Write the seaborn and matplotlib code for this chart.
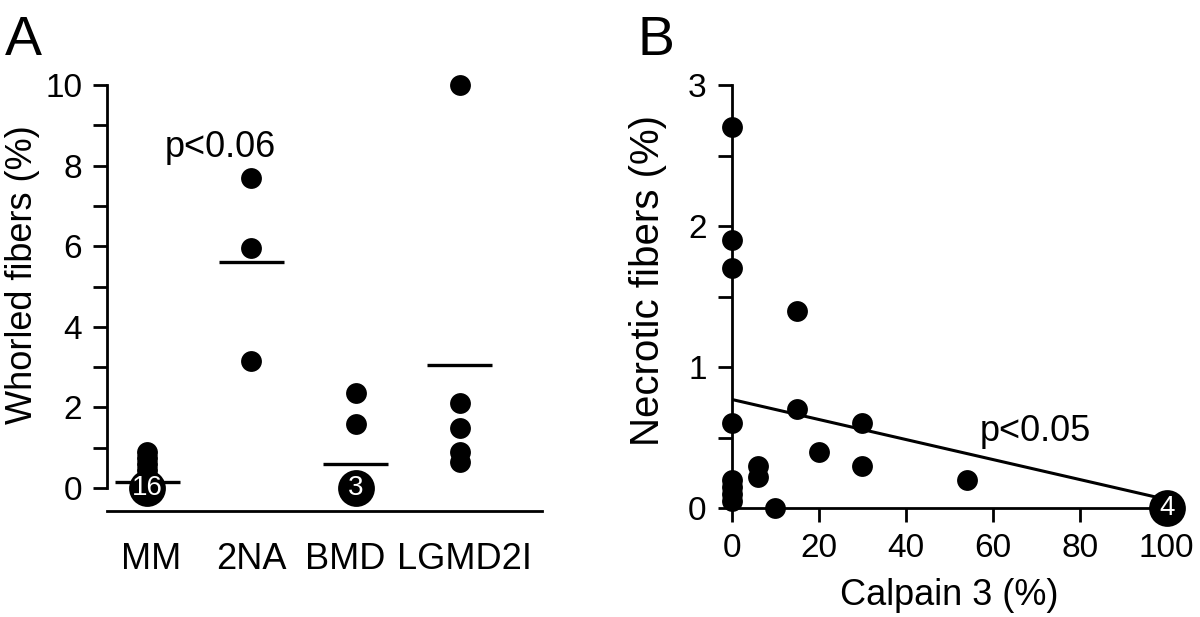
import matplotlib
matplotlib.use("Agg")
import matplotlib.pyplot as plt
import matplotlib.transforms as mtransforms
import seaborn as sns
import pandas as pd
from matplotlib.ticker import MultipleLocator

# ---------------- data ----------------
# Panel A
categories = ["MM", "2NA", "BMD", "LGMD2I"]
mm_vals = [0.9, 0.75, 0.6, 0.45, 0.3]
na2_vals = [7.7, 5.95, 3.15]
bmd_vals = [2.35, 1.6]
lgmd_vals = [10.0, 2.1, 1.5, 0.9, 0.65]
group_means = [0.16, 5.6, 0.6, 3.05]
cluster_cats = ["MM", "BMD"]
cluster_vals = [0.0, 0.0]
cluster_counts = ["16", "3"]
pA_text = "p<0.06"

# Panel B
calpain = [0, 0, 0, 15, 15, 0, 30, 20, 6, 6, 30, 54, 10, 0, 0, 0, 0]
necrotic = [2.7, 1.9, 1.7, 1.4, 0.7, 0.6, 0.6, 0.4, 0.3, 0.22, 0.3, 0.2, 0.0, 0.2, 0.15, 0.1, 0.05]
b_cluster_x = [100]
b_cluster_y = [0.0]
b_cluster_counts = ["4"]
fit_x = [0, 100]
fit_y = [0.77, 0.06]
pB_text = "p<0.05"

# ---------------- style ----------------
sns.set_style("ticks")
plt.rcParams["font.family"] = ["Liberation Sans", "DejaVu Sans"]
for k in ["text.color", "axes.labelcolor", "xtick.color", "ytick.color", "axes.edgecolor"]:
    plt.rcParams[k] = "black"
TFS = 24   # tick labels
LFS = 26   # axis labels / annotations
LW = 2.0

fig = plt.figure(figsize=(12, 6.17), dpi=100)
W, H = 1200, 617

def ax_rect(l, r, t, b):
    return [l / W, 1 - b / H, (r - l) / W, (b - t) / H]

axA = fig.add_axes(ax_rect(107, 542, 85, 511))
axB = fig.add_axes(ax_rect(731.7, 1166.7, 85, 508))

# ---------------- Panel A ----------------
dfA = pd.DataFrame({
    "group": ["MM"] * len(mm_vals) + ["2NA"] * len(na2_vals)
             + ["BMD"] * len(bmd_vals) + ["LGMD2I"] * len(lgmd_vals),
    "value": mm_vals + na2_vals + bmd_vals + lgmd_vals,
})
sns.stripplot(data=dfA, x="group", y="value", order=categories, jitter=False,
              color="black", size=15, linewidth=0, ax=axA, zorder=3, clip_on=False)
dfC = pd.DataFrame({"group": cluster_cats, "value": cluster_vals})
sns.stripplot(data=dfC, x="group", y="value", order=categories, jitter=False,
              color="black", size=26.5, linewidth=0, ax=axA, zorder=3, clip_on=False)

for i, m in enumerate(group_means):
    axA.hlines(m, i - 0.31, i + 0.31, color="black", lw=2.4, zorder=2)
for c, v, n in zip(cluster_cats, cluster_vals, cluster_counts):
    axA.text(categories.index(c), v, n, color="white", fontsize=20,
             ha="center", va="center", zorder=4)

axA.text(0.7, 8.44, pA_text, fontsize=LFS, ha="center", va="center")

axA.set_xlim(-0.386, 3.789)
axA.set_ylim(-0.57, 10)
axA.spines["left"].set_bounds(0, 10)
for s in ["top", "right"]:
    axA.spines[s].set_visible(False)
for s in ["left", "bottom"]:
    axA.spines[s].set_linewidth(LW)
axA.yaxis.set_major_locator(MultipleLocator(2))
axA.yaxis.set_minor_locator(MultipleLocator(1))
axA.tick_params(axis="y", which="both", length=10, width=LW, labelsize=TFS, pad=8)
axA.tick_params(axis="x", length=0, labelsize=26, pad=22)
axA.set_xlabel("")
axA.set_ylabel("Whorled fibers (%)", fontsize=LFS)
axA.yaxis.set_label_coords(-0.154, 0.554)

# small horizontal nudges of the category labels (pixels)
label_shift_px = [4, 0, -10, 5]
for lab, dx in zip(axA.get_xticklabels(), label_shift_px):
    lab.set_transform(lab.get_transform() +
                      mtransforms.ScaledTranslation(dx / 100, 0, fig.dpi_scale_trans))

# ---------------- Panel B ----------------
sns.lineplot(x=fit_x, y=fit_y, color="black", lw=2.2, ax=axB, zorder=2)
sns.scatterplot(x=calpain, y=necrotic, color="black", s=225, linewidth=0,
                ax=axB, zorder=3, clip_on=False)
sns.scatterplot(x=b_cluster_x, y=b_cluster_y, color="black", s=700, linewidth=0,
                ax=axB, zorder=3, clip_on=False)
for x, y, n in zip(b_cluster_x, b_cluster_y, b_cluster_counts):
    axB.text(x, y, n, color="white", fontsize=20, ha="center", va="center", zorder=4)
axB.text(69.7, 0.54, pB_text, fontsize=LFS, ha="center", va="center")

axB.set_xlim(0, 100)
axB.set_ylim(0, 3)
for s in ["top", "right"]:
    axB.spines[s].set_visible(False)
for s in ["left", "bottom"]:
    axB.spines[s].set_linewidth(LW)
axB.xaxis.set_major_locator(MultipleLocator(20))
axB.yaxis.set_major_locator(MultipleLocator(1))
axB.yaxis.set_minor_locator(MultipleLocator(0.5))
axB.tick_params(axis="both", which="both", length=10, width=LW, labelsize=TFS, pad=8)
axB.set_xlabel("Calpain 3 (%)", fontsize=LFS, labelpad=10)
axB.set_ylabel("Necrotic fibers (%)", fontsize=29)
axB.yaxis.set_label_coords(-0.149, 0.537)

fig.text(5 / W, 1 - 55 / H, "A", fontsize=40, ha="left", va="baseline")
fig.text(638 / W, 1 - 55 / H, "B", fontsize=40, ha="left", va="baseline")

fig.savefig("out.png", dpi=100)
